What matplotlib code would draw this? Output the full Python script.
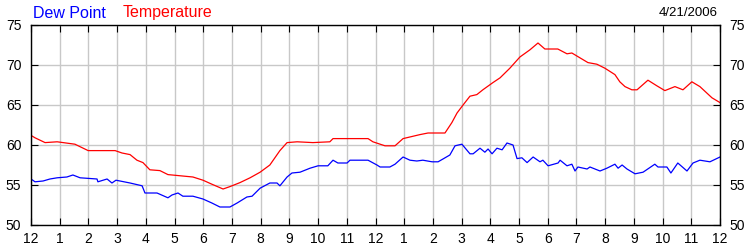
import numpy as np
import matplotlib.pyplot as plt

plt.rcParams['font.family'] = ['Liberation Sans', 'DejaVu Sans']

# hours since midnight (0..24) and readings in deg F
temp_hours = [0.00, 0.14, 0.49, 0.91, 1.53, 1.99, 2.93, 3.17, 3.45, 3.69,
              3.90, 4.14, 4.49, 4.77, 5.64, 5.99, 6.30, 6.69, 6.93, 7.28,
              7.63, 7.98, 8.32, 8.67, 8.92, 9.27, 9.82, 10.41, 10.52, 11.74,
              11.91, 12.33, 12.68, 12.96, 13.55, 13.83, 14.42, 14.66, 14.84, 15.05,
              15.29, 15.53, 15.74, 16.09, 16.34, 16.68, 17.03, 17.38, 17.66, 17.90,
              18.35, 18.67, 18.84, 19.12, 19.40, 19.71, 19.99, 20.34, 20.51, 20.69,
              20.93, 21.11, 21.49, 21.80, 22.08, 22.43, 22.71, 23.02, 23.30, 23.72,
              24.0]
temp_vals = [61.2, 60.9, 60.3, 60.4, 60.1, 59.3, 59.3, 59.0, 58.8, 58.1,
             57.8, 56.9, 56.8, 56.3, 56.0, 55.6, 55.1, 54.5, 54.8, 55.3,
             55.9, 56.6, 57.5, 59.3, 60.3, 60.4, 60.3, 60.4, 60.8, 60.8,
             60.4, 59.9, 59.9, 60.8, 61.3, 61.5, 61.5, 62.8, 64.0, 65.0,
             66.1, 66.3, 66.9, 67.8, 68.4, 69.6, 71.0, 71.9, 72.75, 72.0,
             72.0, 71.4, 71.5, 70.9, 70.3, 70.1, 69.6, 68.8, 67.9, 67.3,
             66.9, 66.9, 68.1, 67.4, 66.8, 67.3, 66.9, 67.9, 67.3, 65.9,
             65.3]

dew_hours = [0.00, 0.14, 0.42, 0.66, 0.91, 1.25, 1.46, 1.71, 2.30, 2.33,
             2.65, 2.82, 2.96, 3.45, 3.87, 3.97, 4.39, 4.77, 4.91, 5.12,
             5.29, 5.64, 5.99, 6.30, 6.58, 6.93, 7.18, 7.52, 7.70, 7.98,
             8.32, 8.57, 8.67, 8.92, 9.09, 9.37, 9.72, 10.00, 10.34, 10.52,
             10.69, 11.01, 11.11, 11.74, 12.05, 12.16, 12.50, 12.68, 12.96, 13.20,
             13.44, 13.65, 13.97, 14.18, 14.35, 14.59, 14.77, 15.01, 15.29, 15.40,
             15.64, 15.81, 15.92, 16.06, 16.23, 16.41, 16.58, 16.79, 16.93, 17.10, 17.28,
             17.49, 17.73, 17.83, 18.01, 18.36, 18.43, 18.67, 18.84, 18.95, 19.05,
             19.37, 19.47, 19.82, 20.06, 20.34, 20.45, 20.59, 20.76, 21.04, 21.32,
             21.73, 21.84, 22.15, 22.29, 22.53, 22.85, 23.06, 23.30, 23.65, 24.0]
dew_vals = [55.75, 55.4, 55.5, 55.75, 55.9, 56.0, 56.25, 55.9, 55.75, 55.4,
            55.75, 55.25, 55.6, 55.25, 54.9, 54.0, 54.0, 53.4, 53.75, 54.0,
            53.6, 53.6, 53.25, 52.75, 52.25, 52.25, 52.75, 53.5, 53.6, 54.6,
            55.25, 55.25, 54.9, 56.0, 56.5, 56.6, 57.1, 57.4, 57.4, 58.1,
            57.75, 57.75, 58.1, 58.1, 57.5, 57.25, 57.25, 57.6, 58.5, 58.1,
            58.0, 58.1, 57.9, 57.9, 58.25, 58.75, 59.9, 60.1, 58.9, 58.9,
            59.6, 59.1, 59.5, 58.9, 59.6, 59.4, 60.25, 60.0, 58.3, 58.4, 57.8,
            58.5, 57.9, 58.1, 57.4, 57.75, 58.1, 57.4, 57.6, 56.75, 57.25,
            57.0, 57.25, 56.75, 57.1, 57.6, 57.1, 57.5, 57.0, 56.4, 56.6,
            57.6, 57.25, 57.25, 56.5, 57.75, 56.75, 57.75, 58.1, 57.9, 58.5]

hour_ticks = np.arange(0, 25)
hour_labels = ['12', '1', '2', '3', '4', '5', '6', '7', '8', '9', '10', '11',
               '12', '1', '2', '3', '4', '5', '6', '7', '8', '9', '10', '11', '12']
y_ticks = [50, 55, 60, 65, 70, 75]

fig = plt.figure(figsize=(7.5, 2.5), dpi=100)
ax = fig.add_axes([31/750, 25/250, 689/750, 200/250])

ax.plot(temp_hours, temp_vals, color='#ff0000', lw=0.9)
ax.plot(dew_hours, dew_vals, color='#0000ff', lw=0.9)

ax.set_xlim(0, 24)
ax.set_ylim(50, 75)
ax.set_xticks(hour_ticks)
ax.set_xticklabels(hour_labels, fontsize=10)
ax.set_yticks(y_ticks)
ax.grid(True, color='#c8c8c8', lw=1)
ax.set_axisbelow(True)
for s in ax.spines.values():
    s.set_color('black')
    s.set_linewidth(1.0)

ax.tick_params(axis='x', direction='in', length=5, top=True, pad=5, labelsize=10)
ax.tick_params(axis='y', direction='in', length=5, left=True, right=True,
               labelleft=True, labelright=True, pad=7, labelsize=10)

fig.text(33/750, 1 - 13/250, 'Dew Point', color='#0000ff', fontsize=11.5, va='center')
fig.text(123/750, 1 - 13/250, 'Temperature', color='#ff0000', fontsize=11.5, va='center')
fig.text(718/750, 1 - 13/250, '4/21/2006', color='black', fontsize=9.5,
         va='center', ha='right')

fig.savefig('out.png', dpi=100)
